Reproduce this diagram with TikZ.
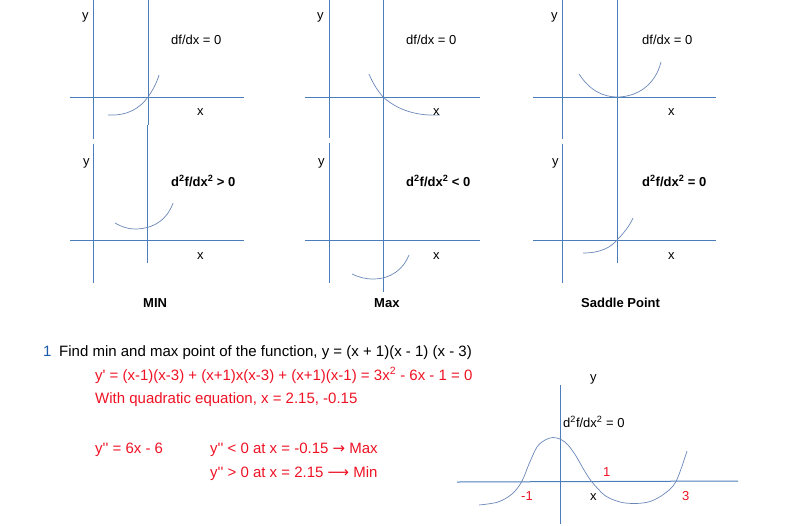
\documentclass[tikz,border=0pt]{standalone}
\usepackage{fontspec}
\setmainfont{Liberation Sans}[Ligatures=TeXOff]
\newfontfamily\arrowfont{DejaVu Sans}
\definecolor{axisblue}{RGB}{74,126,187}
\definecolor{curveblue}{RGB}{105,135,185}
\definecolor{ansred}{RGB}{238,18,36}
\definecolor{numblue}{RGB}{30,90,170}
\newcommand{\yp}{y\textquotesingle}
\newcommand{\ypp}{y\textquotesingle\textquotesingle}
\newcommand{\ddx}{d\textsuperscript{2}f/dx\textsuperscript{2}}

\begin{document}
\begin{tikzpicture}[x=1pt, y=-1pt,
    axis/.style={draw=axisblue, line width=1pt},
    curve/.style={draw=curveblue, line width=0.7pt},
    every node/.style={inner sep=0pt, anchor=base west},
    lbl/.style={font=\fontsize{13pt}{15pt}\selectfont},
    boldlbl/.style={font=\fontsize{13pt}{15pt}\selectfont\bfseries},
    main/.style={font=\fontsize{15pt}{18pt}\selectfont, text=ansred}]
  \useasboundingbox (0,0) rectangle (799,525);

  % first derivative row
  \draw[axis] (93,0) -- (93,139);
  \draw[axis] (148,0) -- (148,125);
  \draw[axis] (70,97) -- (244,97);
  \draw[curve] (108,115) .. controls (128,116) and (140,108) .. (148,97)
               .. controls (153,90) and (157,82) .. (159,75);
  \node[lbl] (y1) at (82,19) {y};
  \node[lbl] (x1) at (197,115) {x};
  \node[lbl] (d1) at (171,44) {df/dx = 0};

  \draw[axis] (329,0) -- (329,138);
  \draw[axis] (383,0) -- (383,125);
  \draw[axis] (305,97) -- (480,97);
  \draw[curve] (369,74) .. controls (374,86) and (379,92) .. (383,97)
               .. controls (400,112) and (420,116) .. (440,115);
  \node[lbl] (y2) at (317,19) {y};
  \node[lbl] (x2) at (433,115) {x};
  \node[lbl] (d2) at (406,44) {df/dx = 0};

  \draw[axis] (562,0) -- (562,139);
  \draw[axis] (617,0) -- (617,125);
  \draw[axis] (533,97) -- (716,97);
  \draw[curve] (579,74) .. controls (590,91) and (604,97) .. (617,97)
               .. controls (636,97) and (655,86) .. (661,62);
  \node[lbl] (y3) at (551,19) {y};
  \node[lbl] (x3) at (668,115) {x};
  \node[lbl] (d3) at (642,44) {df/dx = 0};

  % second derivative row
  \draw[axis] (93,144) -- (93,283);
  \draw[axis] (147,125) -- (147,263);
  \draw[axis] (70,240) -- (244,240);
  \draw[curve] (115,223) .. controls (122,227) and (128,229) .. (135,229)
               .. controls (155,229) and (168,218) .. (173,203);
  \node[lbl] (y4) at (83,165) {y};
  \node[lbl] (x4) at (197,259) {x};
  \node[boldlbl] (dd4) at (171,186) {\ddx{} > 0};
  \node[boldlbl] (min) at (143,307) {MIN};

  \draw[axis] (329,143) -- (329,283);
  \draw[axis] (383,125) -- (383,292);
  \draw[axis] (305,240) -- (480,240);
  \draw[curve] (352,274) .. controls (358,277) and (365,279) .. (373,279)
               .. controls (392,279) and (404,268) .. (409,255);
  \node[lbl] (y5) at (318,165) {y};
  \node[lbl] (x5) at (433,259) {x};
  \node[boldlbl] (dd5) at (406,186) {\ddx{} < 0};
  \node[boldlbl] (max) at (374,307) {Max};

  \draw[axis] (562,144) -- (562,283);
  \draw[axis] (617,125) -- (617,263);
  \draw[axis] (533,240) -- (716,240);
  \draw[curve] (583,253) .. controls (600,253) and (610,248) .. (617,240)
               .. controls (624,233) and (630,225) .. (633,218);
  \node[lbl] (y6) at (552,165) {y};
  \node[lbl] (x6) at (668,259) {x};
  \node[boldlbl] (dd6) at (642,186) {\ddx{} = 0};
  \node[boldlbl] (saddle) at (581,307) {Saddle Point};

  % worked example
  \node[main, text=numblue] (qnum) at (43,356) {1};
  \node[main, text=black] (task) at (59,356)
    {Find min and max point of the function, y = (x + 1)(x - 1) (x - 3)};
  \node[main] (deriv) at (95,380)
    {\yp{} = (x-1)(x-3) + (x+1)x(x-3) + (x+1)(x-1) = 3x\textsuperscript{2} - 6x - 1 = 0};
  \node[main] (roots) at (95,403) {With quadratic equation, x = 2.15, -0.15};
  \node[main] (second) at (95,453) {\ypp{} = 6x - 6};
  \node[main] (maxtest) at (210,453) {\ypp{} < 0 at x = -0.15 {\arrowfont →} Max};
  \node[main] (mintest) at (210,477) {\ypp{} > 0 at x = 2.15 {\arrowfont ⟶} Min};

  % cubic sketch
  \draw[axis] (560,385) -- (560,524);
  \draw[axis] (457,482) -- (738,481);
  \draw[curve] plot[smooth, tension=0.55] coordinates {(479,505) (498,502)
    (512,494) (521.5,482) (529,464) (537,447) (545,440) (553,437.5)
    (561,439.5) (568,445) (576,456) (584,470) (592,482) (605,495.5)
    (620,502) (635,503.5) (650,501.5) (664,494) (676,481.5) (687,451)};
  \node[lbl] (yc) at (590,381) {y};
  \node[lbl] (ddc) at (563,427) {\ddx{} = 0};
  \node[lbl, text=ansred] (mone) at (521,500) {-1};
  \node[lbl] (xc) at (590,500) {x};
  \node[lbl, text=ansred] (one) at (603,476) {1};
  \node[lbl, text=ansred] (three) at (682,500) {3};
\end{tikzpicture}
\end{document}
